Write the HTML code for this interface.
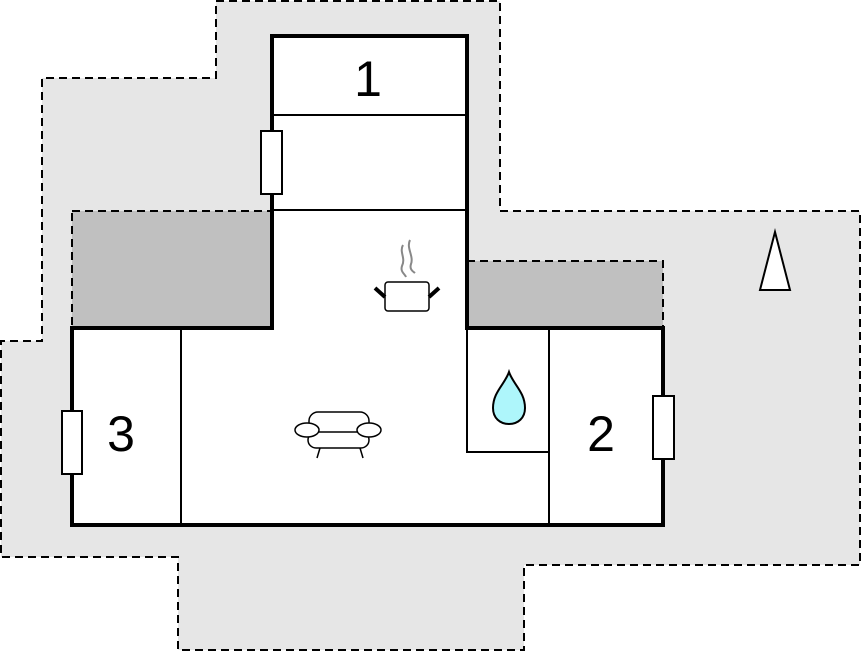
<!DOCTYPE html>
<html><head><style>html,body{margin:0;padding:0;background:#fff}svg{display:block}</style></head>
<body>
<svg width="862" height="652" viewBox="0 0 862 652" xmlns="http://www.w3.org/2000/svg">
<polygon points="216,1 500,1 500,211 860,211 860,565 524,565 524,650 178,650 178,557 1,557 1,341 42,341 42,78 216,78" fill="#e6e6e6" stroke="#000" stroke-width="2" stroke-dasharray="8,5"/>
<rect x="72" y="211" width="200" height="117" fill="#c0c0c0" stroke="#000" stroke-width="2" stroke-dasharray="8,5"/>
<rect x="467" y="261" width="196" height="67" fill="#c0c0c0" stroke="#000" stroke-width="2" stroke-dasharray="8,5"/>
<polygon points="272,36 467,36 467,328 663,328 663,525 72,525 72,328 272,328" fill="#fff" stroke="#000" stroke-width="4"/>
<g stroke="#000" stroke-width="2" fill="none">
<line x1="272" y1="115" x2="467" y2="115"/>
<line x1="272" y1="210" x2="467" y2="210"/>
<line x1="181" y1="328" x2="181" y2="525"/>
<line x1="549" y1="328" x2="549" y2="525"/>
<polyline points="467,328 467,452 549,452"/>
</g>
<g fill="#fff" stroke="#000" stroke-width="2">
<rect x="261" y="131" width="21" height="63"/>
<rect x="62" y="411" width="20" height="63"/>
<rect x="653" y="396" width="21" height="63"/>
<polygon points="760,290 775,232 790,290"/>
</g>
<g font-family="Liberation Sans, sans-serif" font-size="50" text-anchor="middle" fill="#000">
<text x="368" y="96">1</text>
<text x="121" y="451">3</text>
<text x="601" y="451">2</text>
</g>
<path d="M509,372 C505,384 493,392 493,408 C493,418 500,424 509,424 C518,424 525,418 525,408 C525,392 513,384 509,372Z" fill="#aef6fb" stroke="#000" stroke-width="2"/>
<g stroke="#888" stroke-width="2" fill="none">
<path d="M403,245 C399,252 406,258 402,266 C400,272 405,274 406,277"/>
<path d="M410,240 C406,248 414,256 411,264 C409,270 414,272 415,273"/>
</g>
<rect x="385" y="282" width="44" height="29" rx="3" fill="#fff" stroke="#000" stroke-width="1.5"/>
<g stroke="#000" stroke-width="4"><line x1="375" y1="288" x2="385" y2="297"/><line x1="439" y1="288" x2="429" y2="297"/></g>
<g fill="#fff" stroke="#000" stroke-width="1.5">
<rect x="309" y="412" width="60" height="24" rx="9"/>
<rect x="308" y="432" width="61" height="16" rx="8"/>
<ellipse cx="307" cy="430" rx="12" ry="7"/>
<ellipse cx="369" cy="430" rx="12" ry="7"/>
<line x1="320" y1="448" x2="317" y2="458"/>
<line x1="360" y1="448" x2="363" y2="458"/>
</g>
</svg>
</body></html>
